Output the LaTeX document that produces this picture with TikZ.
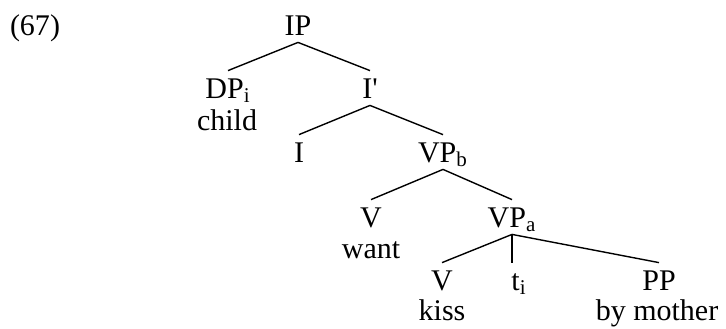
\documentclass[tikz,border=0pt]{standalone}
\usepackage{fontspec}
\setmainfont{Liberation Serif}
\newfontfamily\rawserif{Liberation Serif}[Ligatures=TeXOff]
\usepackage{tikz}

\tikzset{
	cat/.style={anchor=base, inner sep=3.5pt, text height=10pt, text depth=0pt, font=\fontsize{15}{18}\selectfont},
	word/.style={anchor=base, inner sep=0pt, font=\fontsize{15}{18}\selectfont},
	branch/.style={line width=0.7pt}
}

\begin{document}
\begin{tikzpicture}[x=0.5pt,y=-0.5pt]
		\useasboundingbox (0,0) rectangle (726,328);
		
		\node[cat] (num) at (35,35) {(67)};
		
		\node[cat] (ip) at (298,35) {IP};
		\node[cat] (dp) at (228,98) {DP\textsubscript{i}};
		\node[word] (child) at (227,130) {child};
		\node[cat] (ibar) at (370,98) {\rawserif I'};
		\node[cat] (i) at (299,162) {I};
		\node[cat] (vpb) at (443,162) {VP\textsubscript{b}};
		\node[cat] (vwant) at (371,227) {V};
		\node[word] (want) at (371,258) {want};
		\node[cat] (vpa) at (512,227) {VP\textsubscript{a}};
		\node[cat] (vkiss) at (442,290) {V};
		\node[word] (kiss) at (442,320) {kiss};
		\node[cat] (trace) at (519,290) {t\textsubscript{i}};
		\node[cat] (pp) at (659,290) {PP};
		\node[word] (bymother) at (657,320) {by mother};
		
		\draw[branch] (ip.south) -- (dp.north);
		\draw[branch] (ip.south) -- (ibar.north);
		\draw[branch] (ibar.south) -- (i.north);
		\draw[branch] (ibar.south) -- (vpb.north);
		\draw[branch] (vpb.south) -- (vwant.north);
		\draw[branch] (vpb.south) -- (vpa.north);
		
		\draw[branch] (vpa.south) -- (vkiss.north);
		\draw[branch] (vpa.south) -- (vpa.south |- trace.north);
		\draw[branch] (vpa.south) -- (pp.north);
	\end{tikzpicture}
\end{document}
